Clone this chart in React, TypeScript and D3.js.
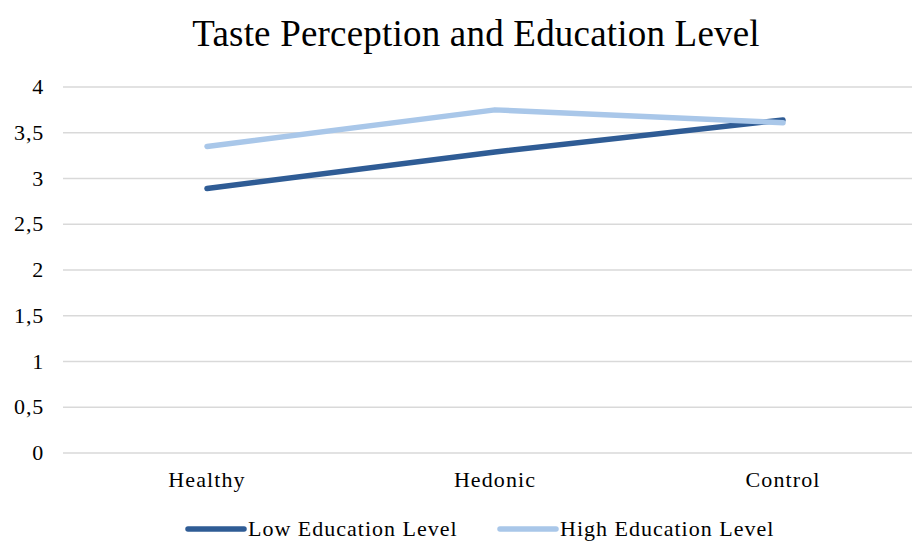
import React from "react";
import * as d3 from "d3";

const categories = ["Healthy", "Hedonic", "Control"];
const lowEducation = [2.89, 3.29, 3.64];
const highEducation = [3.35, 3.75, 3.61];
const yTicks = [0, 0.5, 1, 1.5, 2, 2.5, 3, 3.5, 4];
const seriesNames = ["Low Education Level", "High Education Level"];
const seriesColors = ["#2F5C95", "#A9C7E9"];

export default function App() {
  const W = 912, H = 543;
  const left = 63, right = 927, top = 87, bottom = 453;
  const x = d3.scalePoint<string>().domain(categories).range([left, right]).padding(0.5);
  const y = d3.scaleLinear().domain([0, 4]).range([bottom, top]);
  const line = d3.line<number>().x((_, i) => x(categories[i]) as number).y((d) => y(d));
  const fmt = (v: number) => String(v).replace(".", ",");
  const series = [lowEducation, highEducation];
  const font = "'Liberation Serif', 'Times New Roman', serif";
  const legendX = [188, 500];
  return (
    <svg width={W} height={H} style={{ position: "absolute", left: 0, top: 0, background: "#fff" }} fontFamily={font}>
      <rect width={W} height={H} fill="#fff" />
      <text x={476} y={46} textAnchor="middle" fontSize={37} letterSpacing={0.2} fill="#000">Taste Perception and Education Level</text>
      {yTicks.map((t) => (
        <g key={t}>
          <line x1={left} x2={right} y1={y(t)} y2={y(t)} stroke="#d9d9d9" strokeWidth={1.6} />
          <text x={44} y={y(t) + 7} textAnchor="end" fontSize={22} letterSpacing={0.8} fill="#000">{fmt(t)}</text>
        </g>
      ))}
      {categories.map((c) => (
        <text key={c} x={x(c)} y={487} textAnchor="middle" fontSize={22} letterSpacing={1.1} fill="#000">{c}</text>
      ))}
      {series.map((s, i) => (
        <path key={i} d={line(s) || ""} fill="none" stroke={seriesColors[i]} strokeWidth={5.5} strokeLinecap="round" strokeLinejoin="round" />
      ))}
      {seriesNames.map((n, i) => {
        const lx = legendX[i];
        return (
          <g key={n}>
            <line x1={lx} x2={lx + 56} y1={529} y2={529} stroke={seriesColors[i]} strokeWidth={5.5} strokeLinecap="round" />
            <text x={lx + 60} y={536} fontSize={22} letterSpacing={1} fill="#000">{n}</text>
          </g>
        );
      })}
    </svg>
  );
}
